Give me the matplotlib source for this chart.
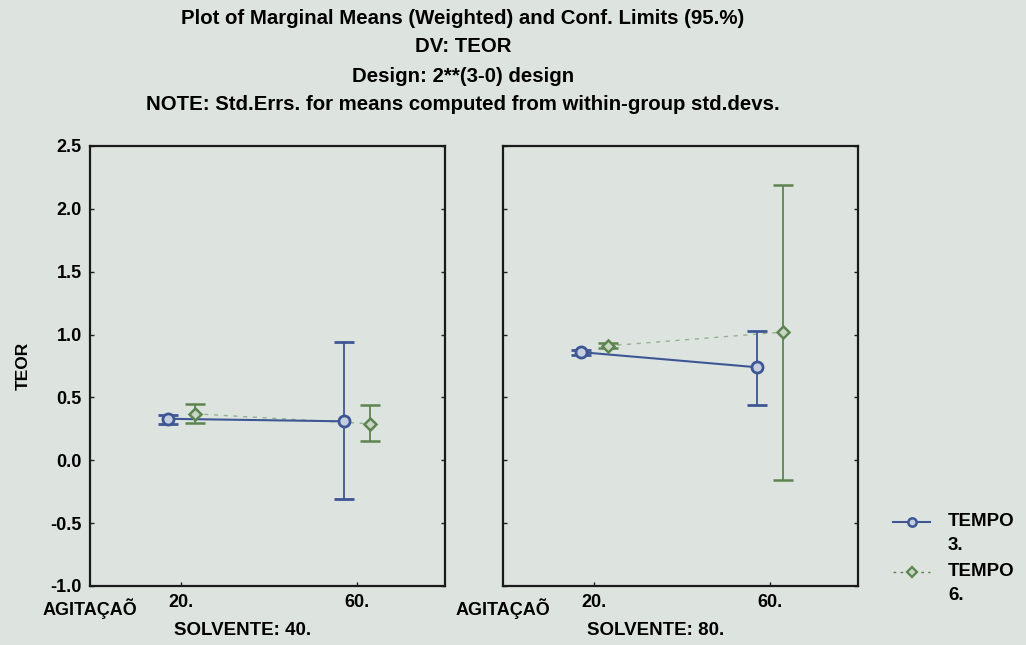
import matplotlib
matplotlib.use("Agg")
import matplotlib.pyplot as plt
from matplotlib.lines import Line2D

plt.rcParams['font.family'] = ['Liberation Sans', 'DejaVu Sans']

# Design factors
agitacao = ['20.', '60.']
solvente = ['40.', '80.']
tempo_labels = ['TEMPO\n3.', 'TEMPO\n6.']

# Weighted marginal means of TEOR and 95% confidence limits, one list per SOLVENTE level
tempo3_mean = [[0.33, 0.31], [0.86, 0.74]]
tempo3_lo = [[0.29, -0.31], [0.84, 0.44]]
tempo3_hi = [[0.36, 0.94], [0.88, 1.03]]
tempo6_mean = [[0.37, 0.29], [0.91, 1.02]]
tempo6_lo = [[0.30, 0.15], [0.89, -0.16]]
tempo6_hi = [[0.45, 0.44], [0.93, 2.19]]

title_lines = [
    'Plot of Marginal Means (Weighted) and Conf. Limits (95.%)',
    'DV: TEOR',
    'Design: 2**(3-0) design',
    'NOTE: Std.Errs. for means computed from within-group std.devs.',
]

bg = '#dde4e0'
c3 = '#3e5794'
c6 = '#5c8450'
dx = 0.075

fig = plt.figure(figsize=(10.26, 6.45), dpi=100, facecolor=bg)

W, H = 1026, 645
fs = 13.5
for i, left_px in enumerate([90, 503]):
    ax = fig.add_axes([left_px / W, 1 - 586 / H, 355 / W, 440 / H])
    ax.set_facecolor(bg)
    x = [0, 1]
    m3 = tempo3_mean[i]
    m6 = tempo6_mean[i]
    e3 = [[m - l for m, l in zip(m3, tempo3_lo[i])], [h - m for m, h in zip(m3, tempo3_hi[i])]]
    e6 = [[m - l for m, l in zip(m6, tempo6_lo[i])], [h - m for m, h in zip(m6, tempo6_hi[i])]]
    x3 = [v - dx for v in x]
    x6 = [v + dx for v in x]
    ax.plot(x6, m6, color=c6, lw=1.0, ls=(0, (3, 4)), alpha=0.55, zorder=2)
    ax.errorbar(x6, m6, yerr=e6, fmt='D', ms=6, mfc='#c9d6c4', mec=c6, mew=1.8,
                ecolor=c6, elinewidth=1.3, capsize=7, capthick=1.5, zorder=3)
    ax.plot(x3, m3, color=c3, lw=1.5, zorder=2)
    ax.errorbar(x3, m3, yerr=e3, fmt='o', ms=8, mfc='#c4cede', mec=c3, mew=2.0,
                ecolor=c3, elinewidth=1.3, capsize=7, capthick=1.5, zorder=4)

    ax.set_xlim(-0.52, 1.5)
    ax.set_ylim(-1.0, 2.5)
    ax.set_yticks([-1.0, -0.5, 0.0, 0.5, 1.0, 1.5, 2.0, 2.5])
    ax.set_xticks(x)
    ax.set_xticklabels(agitacao, fontsize=fs - 0.5, fontweight='bold')
    ax.tick_params(axis='both', direction='in', length=3, width=1, color='#222222',
                   top=False, right=True, pad=6)
    if i == 0:
        ax.set_yticklabels(['%.1f' % v for v in ax.get_yticks()], fontsize=fs - 0.5,
                           fontweight='bold')
        ax.set_ylabel('TEOR', fontsize=fs - 1, fontweight='bold', labelpad=14)
    else:
        ax.set_yticklabels([])
    for s in ax.spines.values():
        s.set_linewidth(1.6)
        s.set_color('#1a1a1a')
    ax.text(0.0, -0.028, 'AGITAÇAÕ', transform=ax.transAxes, ha='center', va='top',
            fontsize=fs - 0.5, fontweight='bold')
    ax.text(0.43, -0.082, 'SOLVENTE: ' + solvente[i], transform=ax.transAxes, ha='center',
            va='top', fontsize=fs, fontweight='bold')

for line, ypx in zip(title_lines, [18, 47, 76, 105]):
    fig.text(463 / W, 1 - ypx / H, line, ha='center', va='center', fontsize=14.7,
             fontweight='bold')

# Legend: sample line with marker, then a two-line label aligned to its first line
legend_styles = [
    dict(color=c3, lw=1.5, ls='-', marker='o', ms=6, mfc='#c4cede', mec=c3, mew=1.8),
    dict(color=c6, lw=1.0, ls=(0, (2, 3)), marker='D', ms=5, mfc='#c9d6c4', mec=c6, mew=1.6),
]
for style, label, ypx in zip(legend_styles, tempo_labels, [522, 572]):
    yf = 1 - ypx / H
    fig.add_artist(Line2D([893 / W, 930 / W], [yf, yf], transform=fig.transFigure,
                          color=style['color'], lw=style['lw'], ls=style['ls']))
    fig.add_artist(Line2D([911.5 / W], [yf], transform=fig.transFigure, ls='none',
                          marker=style['marker'], ms=style['ms'], mfc=style['mfc'],
                          mec=style['mec'], mew=style['mew']))
    fig.text(948 / W, yf + 9 / H, label, ha='left', va='top', fontsize=fs,
             fontweight='bold', linespacing=1.55)

fig.savefig('out.png', dpi=100, facecolor=bg)
